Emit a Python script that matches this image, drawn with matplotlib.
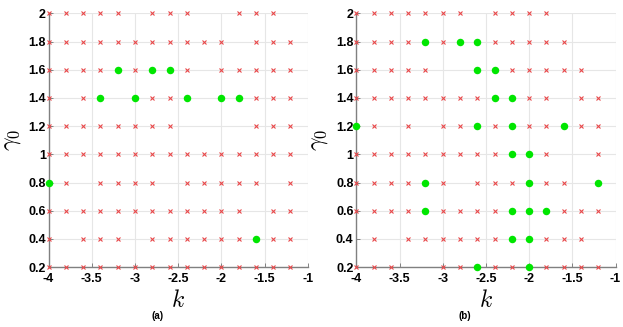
import numpy as np
import matplotlib
matplotlib.use("Agg")
import matplotlib.pyplot as plt

# grid of parameter values that were tested
k_values = [-4.0, -3.8, -3.6, -3.4, -3.2, -3.0, -2.8, -2.6, -2.4, -2.2, -2.0, -1.8, -1.6, -1.4, -1.2]
gamma_values = [2.0, 1.8, 1.6, 1.4, 1.2, 1.0, 0.8, 0.6, 0.4, 0.2]

# outcome per cell, one string per gamma row (top to bottom), one char per k
# 'x' = red cross, 'o' = green dot, '.' = nothing
outcome_a = [
    "xxxxx.xxx..xxx.",
    "xxxxxxxxxxx.xxx",
    "xxxxoxoox.xxxxx",
    "x.xo.oxxo.ooxxx",
    "xxxxxxxx....xxx",
    "xxxxxxxxxxxxxxx",
    "ox.xxxx.xxxxx.x",
    "xxxxxxxxxxxx.xx",
    "x.xxx.xxxxxxoxx",
    "xxxxxxxxxxxxxxx",
]
outcome_b = [
    "xxxxxxx.xxxx...",
    "xxxxoxooxxxxx..",
    "xxxxx..ooxxxxx.",
    "xxxxxxxxooxx.xx",
    "ox.x.xxoxoxxoxx",
    "xxxxxxxxxoox..x",
    "xxxxox.xxxoxx.o",
    "xxxxoxxxxoooxxx",
    ".x.xxxxxxooxxx.",
    "xxx..xxoxxoxxxx",
]

x_ticks = [-4, -3.5, -3, -2.5, -2, -1.5, -1]
x_tick_labels = ['-4', '-3.5', '-3', '-2.5', '-2', '-1.5', '-1']
y_ticks = [0.2, 0.4, 0.6, 0.8, 1.0, 1.2, 1.4, 1.6, 1.8, 2.0]
y_tick_labels = ['0.2', '0.4', '0.6', '0.8', '1', '1.2', '1.4', '1.6', '1.8', '2']
captions = ['(a)', '(b)']

plt.rcParams['font.family'] = ['Liberation Sans', 'DejaVu Sans']
plt.rcParams['mathtext.fontset'] = 'cm'

fig = plt.figure(figsize=(6.23, 3.27), dpi=100)
ax_a = fig.add_axes([0.078, 0.183, 0.416, 0.776])
ax_b = fig.add_axes([0.572, 0.183, 0.416, 0.776])


def split(outcome, flag):
    ks, gs = [], []
    for row, g in zip(outcome, gamma_values):
        for ch, k in zip(row, k_values):
            if ch == flag:
                ks.append(k)
                gs.append(g)
    return ks, gs


for ax, outcome, cap in zip([ax_a, ax_b], [outcome_a, outcome_b], captions):
    ax.grid(True, color='#e6e6e6', linewidth=0.8, zorder=0)
    ax.set_axisbelow(True)
    kx, gx = split(outcome, 'x')
    ko, go = split(outcome, 'o')
    ax.plot(kx, gx, 'x', color='#e8484a', markersize=3.3, markeredgewidth=0.8,
            clip_on=False, zorder=3)
    ax.plot(ko, go, 'o', color='#00e600', markersize=5.4, markeredgewidth=0,
            clip_on=False, zorder=4)
    ax.set_xlim(-4, -1)
    ax.set_ylim(0.2, 2)
    ax.set_xticks(x_ticks)
    ax.set_xticklabels(x_tick_labels, fontweight='bold', fontsize=9)
    ax.set_yticks(y_ticks)
    ax.set_yticklabels(y_tick_labels, fontweight='bold', fontsize=9)
    ax.tick_params(direction='in', length=3, width=0.6, color='#707070', pad=2)
    ax.tick_params(axis='x', pad=4)
    for s in ['top', 'right']:
        ax.spines[s].set_visible(False)
    for s in ['left', 'bottom']:
        ax.spines[s].set_color('#808080')
        ax.spines[s].set_linewidth(1.0)
    ax.set_xlabel('$k$', fontsize=17)
    ax.set_ylabel(r'$\gamma_0$', fontsize=17)
    ax.yaxis.set_label_coords(-0.1, 0.5)
    ax.xaxis.set_label_coords(0.5, -0.09)
    ax.text(0.42, -0.193, cap, transform=ax.transAxes, ha='center', va='center',
            fontsize=7, fontweight='bold')

fig.savefig('out.png', dpi=100)
